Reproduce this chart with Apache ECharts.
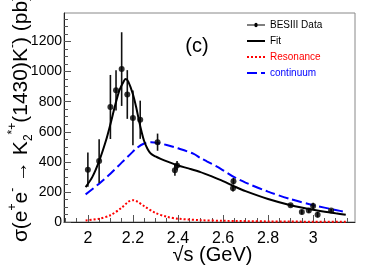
<!DOCTYPE html>
<html>
<head>
<meta charset="utf-8">
<script src="https://cdn.jsdelivr.net/npm/echarts@6/dist/echarts.min.js"></script>
<style>
html,body{margin:0;padding:0;background:#fff;}
#c{width:374px;height:268px;}
</style>
</head>
<body>
<div id="c"></div>
<script>
// ---- data ----
const energies = [2.0, 2.05, 2.1, 2.125, 2.15, 2.175, 2.2, 2.2324, 2.3094, 2.3864, 2.396, 2.6444, 2.6464, 2.9, 2.95, 2.981, 3.0, 3.02, 3.08];
const sigma    = [348, 405, 765, 876, 1017, 848, 692, 680, 531, 345, 376, 225, 271, 111, 66, 77, 106, 49, 77];
const sigmaErr = [114, 146, 213, 134, 245, 162, 182, 127, 57, 38, 30, 22, 22, 9, 16, 16, 22, 19, 9];

const fitX = [1.99, 2.02, 2.05, 2.08, 2.1, 2.12, 2.14, 2.16, 2.168, 2.18, 2.2, 2.215, 2.227, 2.24, 2.249, 2.265, 2.279, 2.3, 2.323, 2.36, 2.4, 2.45, 2.5, 2.55, 2.6, 2.65, 2.7, 2.8, 2.9, 3.0, 3.1, 3.145];
const fitY = [232, 300, 405, 540, 650, 770, 875, 938, 951, 932, 850, 760, 674, 590, 542, 485, 455, 436, 420, 398, 376, 355, 332, 303, 272, 237, 205, 153, 112, 82, 58, 48];

const contX = [1.99, 2.05, 2.1, 2.15, 2.19, 2.22, 2.25, 2.28, 2.31, 2.35, 2.4, 2.47, 2.5, 2.53, 2.59, 2.65, 2.7, 2.8, 2.9, 3.0, 3.1, 3.145];
const contY = [184, 255, 321, 395, 453, 495, 522, 530, 526, 512, 490, 453, 425, 402, 354, 298, 262, 202, 152, 112, 80, 66];

const resX = [1.99, 2.05, 2.1, 2.15, 2.18, 2.2, 2.22, 2.25, 2.3, 2.35, 2.4, 2.5, 2.6, 2.8, 3.0, 3.145];
const resY = [10, 22, 45, 95, 135, 145, 135, 105, 60, 35, 22, 12, 8, 4, 2, 1];

const xMajorTicks = [2.0, 2.2, 2.4, 2.6, 2.8, 3.0];
const xMinorTicks = [1.9,1.95,2.0,2.05,2.1,2.15,2.2,2.25,2.3,2.35,2.4,2.45,2.5,2.55,2.6,2.65,2.7,2.75,2.8,2.85,2.9,2.95,3.0,3.05,3.1,3.15];
const yMajorTicks = [0, 200, 400, 600, 800, 1000, 1200];
const yMinorTicks = [0,50,100,150,200,250,300,350,400,450,500,550,600,650,700,750,800,850,900,950,1000,1050,1100,1150,1200,1250,1300,1350];

const legendNames = ['BESIII Data', 'Fit', 'Resonance', 'continuum'];
const yTitle = '{a|\u03C3(e}{sup|+}{a|e}{sup|-}{a| \u2192 K}{sub|2}{sup|*+}{a|(1430)K}{sup|-}{a|) (pb)}';
const xTitle = '\u221As (GeV)';

// ---- chart ----
const FONT = "'Liberation Sans', Arial, Helvetica, sans-serif";
const chart = echarts.init(document.getElementById('c'), null, {renderer: 'canvas'});
const zip = (a, b) => a.map((v, i) => [v, b[i]]);

const xMin = 1.894, xMax = 3.186, yMin = 0, yMax = 1390;

const option = {
  animation: false,
  backgroundColor: '#fff',
  grid: {left: 64, right: 19, top: 13, bottom: 46, containLabel: false, outerBoundsMode: 'none',
    show: true, borderColor: '#888', borderWidth: 1, backgroundColor: '#fff'},
  legend: {
    orient: 'vertical', left: 241, top: 14, itemWidth: 18, itemHeight: 12, itemGap: 4, padding: 5,
    selectedMode: false,
    textStyle: {fontFamily: FONT, fontSize: 10, color: '#000', lineHeight: 12},
    data: [
      {name: legendNames[0], icon: 'path://M0,5.4H8.2A1.8,1.8 0 0,1 11.8,5.4H20V6.6H11.8A1.8,1.8 0 0,1 8.2,6.6H0Z', itemStyle: {color: '#000'}},
      {name: legendNames[1], itemStyle: {opacity: 0}},
      {name: legendNames[2], itemStyle: {opacity: 0}, textStyle: {color: '#ff0000'}},
      {name: legendNames[3], itemStyle: {opacity: 0}, textStyle: {color: '#0000ff'}}
    ]
  },
  xAxis: [
    {
      type: 'value', min: xMin, max: xMax, position: 'bottom',
      axisLine: {show: true, lineStyle: {color: '#222', width: 1}},
      axisTick: {show: true, inside: true, length: 7, customValues: xMajorTicks, lineStyle: {color: '#555'}},
      axisLabel: {show: true, customValues: xMajorTicks, fontFamily: FONT, fontSize: 16, color: '#000', margin: 9,
        formatter: v => String(Math.round(v * 10) / 10)},
      splitLine: {show: false},
      name: xTitle, nameLocation: 'middle', nameGap: 23, nameMoveOverlap: false,
      nameTextStyle: {fontFamily: FONT, fontSize: 20, color: '#000', verticalAlign: 'top', padding: [0, 0, 0, 6]}
    },
    {
      type: 'value', min: xMin, max: xMax, position: 'bottom',
      axisLine: {show: false},
      axisTick: {show: true, inside: true, length: 4, customValues: xMinorTicks, lineStyle: {color: '#555'}},
      axisLabel: {show: false},
      splitLine: {show: false}
    }
  ],
  yAxis: [
    {
      type: 'value', min: yMin, max: yMax, position: 'left',
      axisLine: {show: true, lineStyle: {color: '#222', width: 1}},
      axisTick: {show: true, inside: true, length: 7, customValues: yMajorTicks, lineStyle: {color: '#555'}},
      axisLabel: {show: true, customValues: yMajorTicks, fontFamily: "'Liberation Sans Narrow', " + FONT, fontSize: 14, color: '#000', margin: 2,
        formatter: v => String(Math.round(v))},
      splitLine: {show: false}
    },
    {
      type: 'value', min: yMin, max: yMax, position: 'left',
      axisLine: {show: false},
      axisTick: {show: true, inside: true, length: 4, customValues: yMinorTicks, lineStyle: {color: '#555'}},
      axisLabel: {show: false},
      splitLine: {show: false}
    }
  ],
  graphic: [
    {type: 'text', x: 197, y: 46, style: {text: '(c)', font: '20px ' + FONT, fill: '#000', align: 'center', verticalAlign: 'middle'}},
    {type: 'text', x: 21, y: 118, rotation: Math.PI / 2,
      style: {
        text: yTitle, fill: '#000', align: 'center', verticalAlign: 'middle', font: '21px ' + FONT,
        rich: {
          a: {fontFamily: FONT, fontSize: 21, fill: '#000', lineHeight: 28},
          sup: {fontFamily: FONT, fontSize: 12, fill: '#000', verticalAlign: 'top', lineHeight: 14},
          sub: {fontFamily: FONT, fontSize: 12, fill: '#000', verticalAlign: 'bottom', lineHeight: 12}
        }
      }
    }
  ],
  series: [
    {
      name: legendNames[3], type: 'line', data: zip(contX, contY), smooth: 0.3, symbol: 'none',
      lineStyle: {color: '#0000ff', width: 2, type: [10, 4]}, itemStyle: {color: '#0000ff'}, z: 2
    },
    {
      name: legendNames[2], type: 'line', data: zip(resX, resY), smooth: 0.3, symbol: 'none',
      lineStyle: {color: '#ff0000', width: 2, type: [2, 2]}, itemStyle: {color: '#ff0000'}, z: 2
    },
    {
      name: legendNames[0], type: 'custom', xAxisIndex: 0, yAxisIndex: 0,
      data: energies.map((e, i) => [e, sigma[i], sigmaErr[i]]),
      encode: {x: 0, y: 1},
      itemStyle: {color: '#000'},
      renderItem: function (params, api) {
        const x = api.value(0), y = api.value(1), e = api.value(2);
        const p1 = api.coord([x, y + e]);
        const p2 = api.coord([x, y - e]);
        return {type: 'line', shape: {x1: p1[0], y1: p1[1], x2: p2[0], y2: p2[1]}, style: {stroke: '#111', lineWidth: 1.6}};
      },
      z: 3
    },
    {
      name: legendNames[0], type: 'scatter', data: zip(energies, sigma), symbol: 'circle', symbolSize: 6,
      itemStyle: {color: '#000'}, z: 4
    },
    {
      name: legendNames[1], type: 'line', data: zip(fitX, fitY), smooth: 0.3, symbol: 'none',
      lineStyle: {color: '#000', width: 2}, itemStyle: {color: '#000'}, z: 5
    }
  ]
};
chart.setOption(option);
</script>
</body>
</html>
